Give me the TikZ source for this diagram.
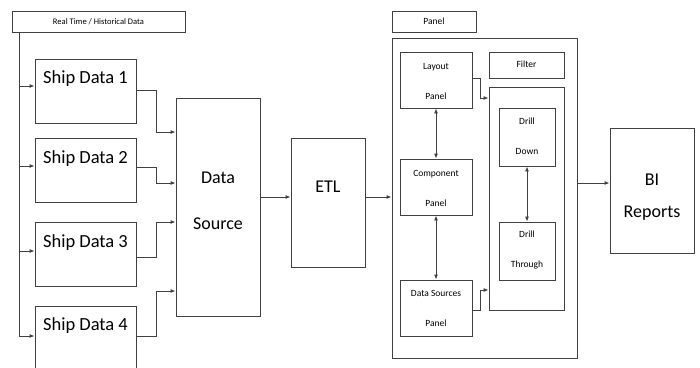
\documentclass[tikz,border=0pt]{standalone}
\usepackage{fontspec}
\setmainfont{Carlito}
\usetikzlibrary{arrows.meta,calc}
\definecolor{linec}{HTML}{404040}
\tikzset{
  box/.style={draw=linec, line width=0.9pt, inner sep=0pt, fill=none},
  arr/.style={draw=linec, line width=0.9pt, -{Latex[length=5pt,width=4pt]}},
  darr/.style={draw=linec, line width=0.9pt, {Latex[length=5pt,width=4pt]}-{Latex[length=5pt,width=4pt]}},
  plain/.style={draw=linec, line width=0.9pt},
  bigtxt/.style={inner sep=0pt, font=\fontsize{18.5pt}{22pt}\selectfont},
  bigtwo/.style={inner sep=0pt, align=center},
  smalltxt/.style={inner sep=0pt, align=center, font=\fontsize{9.5pt}{30pt}\selectfont},
}
\begin{document}
\begin{tikzpicture}[x=1pt,y=-1pt]
\useasboundingbox (0,0) rectangle (700,367);
\clip (0,0) rectangle (700,367);

% Real time label
\node[box, minimum width=173pt, minimum height=21pt] (rt) at (98.5,21.5) {};
\node[inner sep=0pt, font=\fontsize{8.5pt}{10pt}\selectfont] (rtt) at (98.5,21.5) {Real Time / Historical Data};

% Ship data boxes
\node[box, minimum width=101pt, minimum height=64pt] (sd1) at (85.5,91) {};
\node[box, minimum width=101pt, minimum height=64pt] (sd2) at (85.5,170) {};
\node[box, minimum width=101pt, minimum height=64pt] (sd3) at (85.5,254) {};
\node[box, minimum width=101pt, minimum height=64pt] (sd4) at (85.5,338) {};
\node[bigtxt] (t1) at (85.5,79) {Ship Data 1};
\node[bigtxt] (t2) at (85.5,159) {Ship Data 2};
\node[bigtxt] (t3) at (85.5,243) {Ship Data 3};
\node[bigtxt] (t4) at (85.5,326) {Ship Data 4};

% Data source, ETL
\node[box, minimum width=84pt, minimum height=218pt] (ds) at (218,207) {};
\node[bigtwo, font=\fontsize{18pt}{46pt}\selectfont] (dst) at (218,201) {Data\\Source};
\node[box, minimum width=74pt, minimum height=129pt] (etl) at (328,202.5) {};
\node[bigtxt, font=\fontsize{18pt}{22pt}\selectfont] (etlt) at (328,187) {ETL};

% Panel
\node[box, minimum width=84pt, minimum height=21pt] (pl) at (434,21.5) {};
\node[inner sep=0pt, font=\fontsize{9.5pt}{11pt}\selectfont] (plt) at (434,21.5) {Panel};
\node[box, minimum width=185pt, minimum height=320pt] (panel) at (484.5,198) {};

\node[box, minimum width=72pt, minimum height=56pt] (lay) at (436,80) {};
\node[smalltxt] (layt) at (436,81) {Layout\\Panel};
\node[box, minimum width=72pt, minimum height=56pt] (comp) at (436,187) {};
\node[smalltxt] (compt) at (436,188.5) {Component\\Panel};
\node[box, minimum width=72pt, minimum height=56pt] (dsp) at (436,308) {};
\node[smalltxt] (dspt) at (436,308.5) {Data Sources\\Panel};

\node[box, minimum width=75pt, minimum height=26pt] (filt) at (526.5,65) {};
\node[smalltxt] (filtt) at (526.5,64) {Filter};
\node[box, minimum width=75pt, minimum height=223pt] (inner) at (526.5,198.5) {};
\node[box, minimum width=56pt, minimum height=58pt] (dd) at (527,137) {};
\node[smalltxt] (ddt) at (527,136.5) {Drill\\Down};
\node[box, minimum width=56pt, minimum height=58pt] (dt) at (527,251) {};
\node[smalltxt] (dtt) at (527,250) {Drill\\Through};

% BI reports
\node[box, minimum width=84pt, minimum height=125pt] (bi) at (652,190.5) {};
\node[bigtwo, font=\fontsize{18pt}{32pt}\selectfont] (bit) at (652,197) {BI\\Reports};

% coordinates
\coordinate (rtl) at (19,32);
\coordinate (a1) at (0,86);
\coordinate (a2) at (0,166);
\coordinate (a3) at (0,251);
\coordinate (a4) at (0,336);
\coordinate (j1) at (156,132);
\coordinate (j2) at (156,183);
\coordinate (j3) at (156,222);
\coordinate (j4) at (156,291);
\coordinate (o1) at (0,90);
\coordinate (o2) at (0,167);
\coordinate (o3) at (0,257);
\coordinate (o4) at (0,336);
\coordinate (m) at (0,197);
\coordinate (b) at (0,183);
\coordinate (k1) at (480,98);
\coordinate (k2) at (480,290);
\coordinate (l1) at (0,78);
\coordinate (l2) at (0,310);

% left feed line
\draw[arr] (rtl) |- (sd4.west |- a4);
\draw[arr] (rtl |- a1) -- (sd1.west |- a1);
\draw[arr] (rtl |- a2) -- (sd2.west |- a2);
\draw[arr] (rtl |- a3) -- (sd3.west |- a3);

% ship data to data source
\draw[arr] (sd1.east |- o1) -| (j1) -- (ds.west |- j1);
\draw[arr] (sd2.east |- o2) -| (j2) -- (ds.west |- j2);
\draw[arr] (sd3.east |- o3) -| (j3) -- (ds.west |- j3);
\draw[arr] (sd4.east |- o4) -| (j4) -- (ds.west |- j4);

% main chain
\draw[arr] (ds.east |- m) -- (etl.west |- m);
\draw[arr] (etl.east |- m) -- (panel.west |- m);
\draw[arr] (panel.east |- b) -- (bi.west |- b);

% inside panel
\draw[darr] (lay.south) -- (comp.north);
\draw[darr] (comp.south) -- (dsp.north);
\draw[darr] (dd.south) -- (dt.north);
\draw[arr] (lay.east |- l1) -| (k1) -- (inner.west |- k1);
\draw[arr] (dsp.east |- l2) -| (k2) -- (inner.west |- k2);
\end{tikzpicture}
\end{document}
